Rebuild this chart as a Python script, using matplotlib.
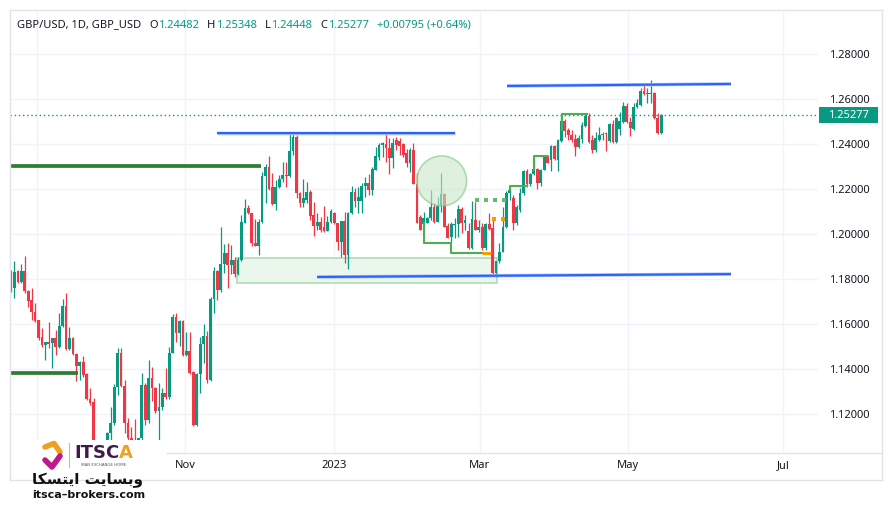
import matplotlib
matplotlib.use('Agg')
import matplotlib.pyplot as plt
from matplotlib.patches import Rectangle, Ellipse
import matplotlib.transforms as mtransforms
import numpy as np

# ---------------- data (daily GBP/USD candles) ----------------
opens = [1.1830,1.1762,1.1836,1.1788,1.1836,1.1747,1.1707,1.1652,1.1618,1.1544,
         1.1507,1.1519,1.1514,1.1539,1.1499,1.1591,1.1682,1.1489,1.1539,1.1465,
         1.1413,1.1433,1.1378,1.1266,1.1255,1.1040,1.0980,1.1010,1.0990,1.1114,
         1.1162,1.1322,1.1470,1.1326,1.1159,1.1092,1.1070,1.1050,1.1092,1.1330,
         1.1174,1.1359,1.1315,1.1212,1.1231,1.1293,1.1274,1.1470,1.1633,1.1559,
         1.1614,1.1463,1.1481,1.1386,1.1152,1.1377,1.1512,1.1547,1.1352,1.1712,
         1.1836,1.1752,1.1867,1.1917,1.1863,1.1885,1.1821,1.1885,1.2051,1.2117,
         1.2092,1.1962,1.1947,1.2055,1.2258,1.2299,1.2211,1.2132,1.2211,1.2243,
         1.2262,1.2259,1.2369,1.2433,1.2181,1.2137,1.2150,1.2188,1.2085,1.2036,
         1.2052,1.2033,1.2015,1.2055,1.2095,1.2048,1.1966,1.2058,1.1907,1.2092,
         1.2188,1.2148,1.2148,1.2214,1.2228,1.2196,1.2285,1.2344,1.2396,1.2400,
         1.2381,1.2339,1.2418,1.2413,1.2399,1.2358,1.2317,1.2373,1.2222,1.2077,
         1.2043,1.2051,1.2070,1.2122,1.2055,1.2125,1.2178,1.2036,1.1988,1.2040,
         1.2043,1.2110,1.2048,1.2014,1.1937,1.2062,1.2018,1.2030,1.1937,1.2043,
         1.2025,1.1826,1.1878,1.1918,1.2029,1.2184,1.2159,1.2051,1.2107,1.2181,
         1.2280,1.2221,1.2266,1.2289,1.2226,1.2285,1.2341,1.2329,1.2392,1.2329,
         1.2415,1.2502,1.2463,1.2440,1.2422,1.2386,1.2422,1.2480,1.2525,1.2418,
         1.2374,1.2418,1.2440,1.2448,1.2414,1.2489,1.2411,1.2466,1.2499,1.2569,
         1.2499,1.2465,1.2563,1.2574,1.2637,1.2621,1.2622,1.2628,1.2514,1.24482]
highs = [1.1840,1.1880,1.1840,1.1865,1.1902,1.1750,1.1762,1.1692,1.1620,1.1584,
         1.1522,1.1611,1.1540,1.1573,1.1650,1.1711,1.1739,1.1585,1.1544,1.1473,
         1.1435,1.1458,1.1384,1.1315,1.1270,1.1060,1.1040,1.1050,1.1118,1.1233,
         1.1334,1.1492,1.1492,1.1351,1.1181,1.1144,1.1178,1.1092,1.1381,1.1340,
         1.1438,1.1411,1.1320,1.1337,1.1315,1.1404,1.1496,1.1644,1.1648,1.1619,
         1.1619,1.1564,1.1564,1.1390,1.1382,1.1544,1.1600,1.1567,1.1722,1.1855,
         1.1840,1.2033,1.1954,1.1962,1.1949,1.1900,1.1900,1.2085,1.2156,1.2129,
         1.2095,1.2067,1.2067,1.2277,1.2311,1.2348,1.2273,1.2240,1.2262,1.2321,
         1.2321,1.2447,1.2447,1.2440,1.2188,1.2243,1.2230,1.2196,1.2144,1.2092,
         1.2077,1.2125,1.2080,1.2110,1.2100,1.2050,1.2060,1.2100,1.2100,1.2214,
         1.2203,1.2211,1.2225,1.2252,1.2267,1.2297,1.2388,1.2403,1.2410,1.2447,
         1.2425,1.2425,1.2430,1.2425,1.2403,1.2377,1.2381,1.2403,1.2270,1.2085,
         1.2100,1.2074,1.2196,1.2137,1.2166,1.2273,1.2184,1.2048,1.2055,1.2070,
         1.2129,1.2122,1.2085,1.2048,1.2148,1.2144,1.2062,1.2048,1.2048,1.2092,
         1.2070,1.1880,1.1959,1.2122,1.2193,1.2211,1.2174,1.2129,1.2203,1.2285,
         1.2288,1.2270,1.2347,1.2295,1.2290,1.2352,1.2352,1.2396,1.2396,1.2421,
         1.2532,1.2510,1.2470,1.2463,1.2443,1.2440,1.2499,1.2536,1.2536,1.2440,
         1.2455,1.2477,1.2455,1.2454,1.2492,1.2507,1.2522,1.2544,1.2588,1.2581,
         1.2522,1.2581,1.2599,1.2648,1.2670,1.2648,1.2684,1.2630,1.2540,1.25348]
lows = [1.1744,1.1717,1.1781,1.1784,1.1739,1.1676,1.1618,1.1611,1.1529,1.1499,
        1.1440,1.1492,1.1406,1.1463,1.1495,1.1585,1.1485,1.1485,1.1461,1.1347,
        1.1351,1.1366,1.1263,1.1241,1.1000,1.0950,1.0940,1.0960,1.0970,1.1040,
        1.1152,1.1285,1.1322,1.1114,1.1085,1.1040,1.1030,1.1030,1.1080,1.1152,
        1.1160,1.1256,1.1205,1.1086,1.1219,1.1266,1.1266,1.1470,1.1522,1.1503,
        1.1459,1.1459,1.1380,1.1148,1.1145,1.1293,1.1426,1.1337,1.1345,1.1648,
        1.1707,1.1744,1.1826,1.1762,1.1821,1.1811,1.1818,1.1878,1.2048,1.2090,
        1.1947,1.1945,1.1907,1.2050,1.2137,1.2196,1.2129,1.2107,1.2203,1.2233,
        1.2211,1.2255,1.2351,1.2159,1.2119,1.2119,1.2137,1.2063,1.1992,1.2018,
        1.2011,1.2010,1.2012,1.2048,1.2045,1.1927,1.1900,1.1873,1.1844,1.2089,
        1.2122,1.2095,1.2092,1.2163,1.2174,1.2174,1.2285,1.2329,1.2344,1.2322,
        1.2267,1.2292,1.2374,1.2351,1.2344,1.2300,1.2277,1.2222,1.2051,1.2018,
        1.2043,1.2048,1.2063,1.2051,1.2055,1.2100,1.2030,1.1981,1.1966,1.1981,
        1.1988,1.2006,1.2018,1.1932,1.1932,1.2018,1.2011,1.1927,1.1930,1.2018,
        1.1823,1.1811,1.1870,1.1918,1.2026,1.2151,1.2018,1.2040,1.2100,1.2175,
        1.2210,1.2215,1.2262,1.2199,1.2215,1.2285,1.2314,1.2278,1.2329,1.2278,
        1.2411,1.2433,1.2418,1.2411,1.2347,1.2381,1.2406,1.2477,1.2403,1.2359,
        1.2366,1.2414,1.2418,1.2371,1.2411,1.2406,1.2406,1.2440,1.2492,1.2492,
        1.2437,1.2462,1.2559,1.2569,1.2618,1.2584,1.2584,1.2510,1.2445,1.24448]
closes = [1.1762,1.1830,1.1788,1.1836,1.1747,1.1702,1.1652,1.1614,1.1539,1.1507,
          1.1519,1.1511,1.1539,1.1499,1.1591,1.1682,1.1489,1.1539,1.1465,1.1413,
          1.1433,1.1374,1.1265,1.1251,1.1040,1.0980,1.1010,1.0990,1.1117,1.1162,
          1.1322,1.1470,1.1326,1.1159,1.1092,1.1070,1.1050,1.1092,1.1330,1.1174,
          1.1359,1.1315,1.1212,1.1231,1.1293,1.1274,1.1470,1.1633,1.1559,1.1614,
          1.1463,1.1481,1.1384,1.1152,1.1377,1.1512,1.1547,1.1352,1.1712,1.1836,
          1.1752,1.1867,1.1917,1.1863,1.1885,1.1821,1.1885,1.2055,1.2117,1.2092,
          1.1959,1.1947,1.2055,1.2258,1.2299,1.2200,1.2132,1.2211,1.2243,1.2262,
          1.2259,1.2369,1.2433,1.2181,1.2137,1.2160,1.2188,1.2080,1.2036,1.2052,
          1.2018,1.2015,1.2055,1.2104,1.2048,1.1966,1.2058,1.1907,1.2092,1.2188,
          1.2148,1.2166,1.2214,1.2228,1.2196,1.2288,1.2347,1.2396,1.2403,1.2381,
          1.2339,1.2403,1.2396,1.2391,1.2351,1.2317,1.2373,1.2222,1.2051,1.2018,
          1.2070,1.2070,1.2122,1.2055,1.2125,1.2178,1.2033,1.1981,1.2045,1.2045,
          1.2110,1.2048,1.2062,1.1937,1.2065,1.2018,1.2030,1.1937,1.2043,1.2022,
          1.1826,1.1878,1.1918,1.2029,1.2184,1.2196,1.2051,1.2122,1.2181,1.2280,
          1.2221,1.2266,1.2289,1.2226,1.2285,1.2347,1.2317,1.2392,1.2332,1.2418,
          1.2502,1.2460,1.2440,1.2418,1.2386,1.2425,1.2485,1.2525,1.2411,1.2374,
          1.2425,1.2440,1.2445,1.2443,1.2489,1.2411,1.2514,1.2502,1.2569,1.2499,
          1.2470,1.2566,1.2581,1.2637,1.2621,1.2625,1.2628,1.2514,1.2448,1.25277]

time_tick_pos = [7.6, 50.6, 93.9, 136.3, 179.4, 224.4]
time_tick_labels = ['Sep', 'Nov', '2023', 'Mar', 'May', 'Jul']
price_ticks = [1.12, 1.14, 1.16, 1.18, 1.20, 1.22, 1.24, 1.26, 1.28]
last_price = 1.25277

# header legend
symbol_text = 'GBP/USD, 1D, GBP_USD'
ohlc_keys = ['O', 'H', 'L', 'C']
ohlc_vals = ['1.24482', '1.25348', '1.24448', '1.25277']
change_text = '+0.00795 (+0.64%)'

# drawing annotations (bar index, price)
blue_lines = [((59.8, 1.2447), (129.1, 1.2447)),
              ((144.2, 1.2658), (209.3, 1.2667)),
              ((89.0, 1.1809), (209.3, 1.1822))]
dark_green_lines = [((-2, 1.2304), (72.7, 1.2304)),
                    ((-2, 1.1384), (19.5, 1.1384))]
zone_x = (65.8, 141.2)
zone_y = (1.1781, 1.1892)
circle_center = (125.2, 1.2236)
circle_size = (14.5, 0.0222)
step_lines = [[(120.1, 1.2049), (120.1, 1.1961), (127.9, 1.1961), (127.9, 1.1917), (137.0, 1.1917)],
              [(145.1, 1.2196), (145.1, 1.2215), (150.0, 1.2215)],
              [(152.1, 1.2284), (152.1, 1.2347), (155.7, 1.2347)],
              [(160.2, 1.2462), (160.2, 1.2532), (167.4, 1.2532)]]
orange_seg = [(137.0, 1.1917), (139.6, 1.1917)]
green_dots_x = [135.4, 138.1, 140.7, 143.4]
green_dots_y = 1.2151
orange_dots_x = [140.5, 142.9]
orange_dots_y = 1.2067

# ---------------- style ----------------
GREEN = '#089981'
RED = '#F23645'
TXT = '#131722'
GRID = '#f0f3fa'
BORDER = '#e0e3eb'
FONT = 'Noto Sans'
plt.rcParams['font.family'] = [FONT, 'DejaVu Sans']

W, H = 893, 516
fig = plt.figure(figsize=(W / 100, H / 100), dpi=100)
fig.patch.set_facecolor('white')

# main plot area: x 10..818 px, y 10..453 px
ax = fig.add_axes([10 / W, 1 - 453 / H, 808 / W, 443 / H])
ax.set_facecolor('white')

o = np.array(opens); h = np.array(highs); l = np.array(lows); c = np.array(closes)
idx = np.arange(len(o))
up = c >= o
cols = np.where(up, GREEN, RED)
ax.vlines(idx, l, h, colors=cols, lw=0.9, zorder=3)
body = np.maximum(np.abs(c - o), 0.0004)
ax.bar(idx, body, bottom=np.minimum(o, c), width=0.8, color=cols, linewidth=0, zorder=4)

ax.set_xlim(-0.29, 234.6)
ax.set_ylim(1.10267, 1.29956)

ax.set_yticks(price_ticks)
ax.set_yticklabels([f'{p:.5f}' for p in price_ticks])
ax.yaxis.tick_right()
ax.tick_params(axis='y', length=0, pad=8, labelsize=8, labelcolor=TXT)
ax.set_xticks(time_tick_pos)
ax.set_xticklabels(time_tick_labels)
ax.tick_params(axis='x', length=0, pad=5, labelsize=8, labelcolor=TXT)
ax.grid(True, color=GRID, lw=1, zorder=0)
ax.set_axisbelow(True)
for s in ax.spines.values():
    s.set_visible(False)

# zone rectangle
ax.add_patch(Rectangle((zone_x[0], zone_y[0]), zone_x[1] - zone_x[0], zone_y[1] - zone_y[0],
                       facecolor='#e8f5e9', edgecolor='#a5d6a7', lw=1.2, alpha=0.85, zorder=2))
# circle
ax.add_patch(Ellipse(circle_center, circle_size[0], circle_size[1],
                     facecolor='#c8e6c9', edgecolor='#81c784', lw=1.2, alpha=0.6, zorder=5))
# lines
for (x0, y0), (x1, y1) in blue_lines:
    ax.plot([x0, x1], [y0, y1], color='#a9bfff', lw=2.5, solid_capstyle='butt', zorder=6)
    ax.plot([x0, x1], [y0, y1], color='#2962ff', lw=1.5, solid_capstyle='butt', zorder=6)
for (x0, y0), (x1, y1) in dark_green_lines:
    ax.plot([x0, x1], [y0, y1], color='#2e7d32', lw=2.7, solid_capstyle='butt', zorder=6)
for seg in step_lines:
    xs, ys = zip(*seg)
    ax.plot(xs, ys, color='#4caf50', lw=1.5, zorder=6)
xs, ys = zip(*orange_seg)
ax.plot(xs, ys, color='#ff9800', lw=2.2, solid_capstyle='butt', zorder=6)
ax.plot(green_dots_x, [green_dots_y] * len(green_dots_x), ls='none', marker='s', ms=2.7,
        mew=0, color='#66bb6a', zorder=6)
ax.plot(orange_dots_x, [orange_dots_y] * len(orange_dots_x), ls='none', marker='s', ms=2.6,
        mew=0, color='#ff9800', zorder=6)

# last price line + label
ax.axhline(last_price, color=GREEN, lw=1, ls=(0, (1, 2)), zorder=1)
bt = mtransforms.blended_transform_factory(ax.transAxes, ax.transData)
ax.add_patch(Rectangle((1.0012, last_price - 0.00355), 0.0731, 0.0071, transform=bt,
                       facecolor=GREEN, edgecolor='none', clip_on=False, zorder=7))
ax.text(1.0378, last_price, f'{last_price:.5f}', transform=bt, ha='center', va='center',
        color='white', fontsize=8, fontweight='bold', zorder=8)

# ---------------- overlay (pixel coordinates) ----------------
ov = fig.add_axes([0, 0, 1, 1], zorder=10)
ov.set_xlim(0, W)
ov.set_ylim(H, 0)
ov.axis('off')
ov.patch.set_alpha(0)

# frame lines
for (x0, y0, x1, y1) in [(10, 10, 882, 10), (10, 10, 10, 480), (882, 10, 882, 480),
                         (10, 480, 882, 480), (167, 453, 882, 453)]:
    ov.plot([x0, x1], [y0, y1], color=BORDER, lw=1)

# header legend: pieces placed one after another
renderer = fig.canvas.get_renderer()
HFS = 8.0

def put(x, s, col):
    t = ov.text(x, 25, s, color=col, fontsize=HFS, ha='left', va='center')
    bb = t.get_window_extent(renderer=renderer)
    return x + bb.width

x = put(17, symbol_text, TXT)
x += 8
for k, v in zip(ohlc_keys, ohlc_vals):
    x = put(x, k, TXT)
    x = put(x + 0.5, v, GREEN)
    x += 8
put(x, change_text, GREEN)

# logo box
ov.add_patch(Rectangle((0, 440), 167, 76, facecolor='white', edgecolor='none', zorder=1))
ov.plot([45, 54, 60], [447, 443.5, 452], color='#f0a020', lw=4, solid_capstyle='round',
        solid_joinstyle='round', zorder=2)
ov.plot([60, 52, 45], [456, 467, 460], color='#c0188c', lw=4, solid_capstyle='round',
        solid_joinstyle='round', zorder=2)
ov.plot([69, 69], [443, 467], color='#bbbbbb', lw=0.8, zorder=2)
ov.text(74, 453, 'ITSC', color='#3d1a4a', fontsize=13, fontweight='bold', ha='left',
        va='center', family='DejaVu Sans', zorder=2)
ov.text(119, 453, 'A', color='#f0a020', fontsize=13, fontweight='bold', ha='left',
        va='center', family='DejaVu Sans', zorder=2)
ov.text(104, 464.5, 'IRAN EXCHANGE HOME', color='#555555', fontsize=2.8, ha='center',
        va='center', family='DejaVu Sans', zorder=2)
persian = '\ufe8e\ufb91\ufeb4\ufe98\ufbfe\ufe8d \ufe96\ufbfe\ufe8e\ufeb4\ufe91\ufeed'
ov.text(88, 480, persian, color='#111111', fontsize=11, fontweight='bold', ha='center',
        va='center', family='DejaVu Sans', zorder=2)
ov.text(89, 495, 'itsca\u2013brokers.com', color='#111111', fontsize=8, fontweight='bold',
        ha='center', va='center', family='DejaVu Sans', zorder=2)

fig.savefig('out.png', dpi=100)
